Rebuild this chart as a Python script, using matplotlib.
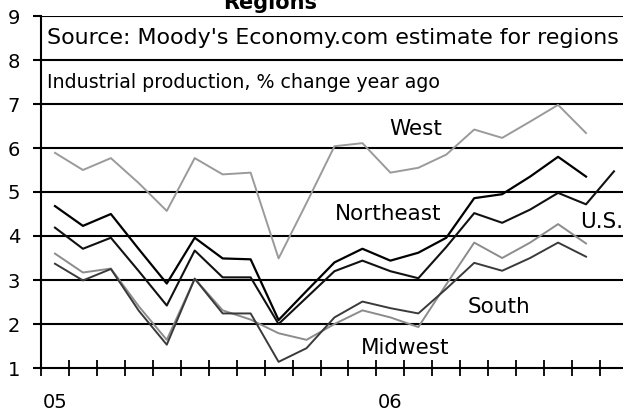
import numpy as np
import matplotlib
matplotlib.use("Agg")
import matplotlib.pyplot as plt

plt.rcParams['font.family'] = ['DejaVu Sans']

# Monthly observations, Jan 2005 onward
months = ["Jan05", "Feb05", "Mar05", "Apr05", "May05", "Jun05", "Jul05", "Aug05",
          "Sep05", "Oct05", "Nov05", "Dec05", "Jan06", "Feb06", "Mar06", "Apr06",
          "May06", "Jun06", "Jul06", "Aug06", "Sep06"]

west = [5.89, 5.50, 5.77, 5.20, 4.57, 5.77, 5.40, 5.44, 3.49, 4.75,
        6.04, 6.11, 5.44, 5.55, 5.85, 6.42, 6.23, 6.60, 6.98, 6.34]
northeast = [4.68, 4.23, 4.50, 3.70, 2.92, 3.96, 3.49, 3.47, 2.09, 2.75,
             3.40, 3.71, 3.44, 3.62, 3.96, 4.86, 4.95, 5.35, 5.80, 5.35]
us = [4.19, 3.71, 3.96, 3.20, 2.42, 3.67, 3.06, 3.06, 2.00, 2.60,
      3.20, 3.44, 3.20, 3.04, 3.75, 4.52, 4.30, 4.60, 4.98, 4.72, 5.47]
south = [3.60, 3.17, 3.26, 2.40, 1.64, 3.03, 2.31, 2.10, 1.79, 1.64,
         2.00, 2.31, 2.15, 1.93, 2.90, 3.85, 3.50, 3.85, 4.27, 3.83]
midwest = [3.37, 2.99, 3.25, 2.30, 1.53, 3.03, 2.24, 2.24, 1.14, 1.45,
           2.15, 2.51, 2.36, 2.24, 2.80, 3.39, 3.21, 3.50, 3.85, 3.53]

year_labels = ["05", "06"]
year_pos = [0.5, 12.5]
y_ticks = [1, 2, 3, 4, 5, 6, 7, 8, 9]

fig = plt.figure(figsize=(6.23, 4.17), dpi=100)
ax = fig.add_axes([41/623, 1 - 368/417, 1 - 41/623, (368 - 16)/417])

def xs(vals):
    return np.arange(len(vals)) + 0.5

ax.plot(xs(west), west, color="#9a9a9a", lw=1.4, zorder=3)
ax.plot(xs(south), south, color="#8c8c8c", lw=1.4, zorder=3)
ax.plot(xs(midwest), midwest, color="#3a3a3a", lw=1.4, zorder=3)
ax.plot(xs(us), us, color="#111111", lw=1.5, zorder=3)
ax.plot(xs(northeast), northeast, color="#000000", lw=1.6, zorder=3)

ax.set_xlim(0, 582/27.95)
ax.set_ylim(1, 9)

for v in y_ticks[1:]:
    ax.axhline(v, color="black", lw=1.5, zorder=2)

for s in ["top", "right"]:
    ax.spines[s].set_visible(False)
ax.spines["left"].set_linewidth(1.5)
ax.spines["bottom"].set_linewidth(1.5)

ax.set_yticks(y_ticks)
ax.set_yticklabels([str(v) for v in y_ticks])
ax.tick_params(axis="y", length=6, width=1.5, pad=9, labelsize=14)

ax.set_xticks(np.arange(0, 21))
ax.set_xticklabels([])
ax.tick_params(axis="x", which="major", direction="inout", length=12, width=1.3)
ax.set_xticks(year_pos, minor=True)
ax.set_xticklabels(year_labels, minor=True)
ax.tick_params(axis="x", which="minor", length=0, pad=18, labelsize=14)

ax.text(0.22, 8.5, "Source: Moody's Economy.com estimate for regions",
        fontsize=15.9, va="center", ha="left")
ax.text(0.22, 7.5, "Industrial production, % change year ago",
        fontsize=13.7, va="center", ha="left")

def lbl(px, py, s):
    ax.text((px - 41) / 27.95, 1 + (368 - py) / 44.0, s, fontsize=15.5,
            ha="center", va="center")

lbl(416, 129, "West")
lbl(388, 214, "Northeast")
lbl(602, 222, "U.S.")
lbl(499, 307, "South")
lbl(405, 348, "Midwest")

fig.text(270/623, 1 - 9/417, "Regions", fontsize=15, fontweight="bold",
         ha="center", va="baseline")

fig.savefig("out.png", dpi=100)
